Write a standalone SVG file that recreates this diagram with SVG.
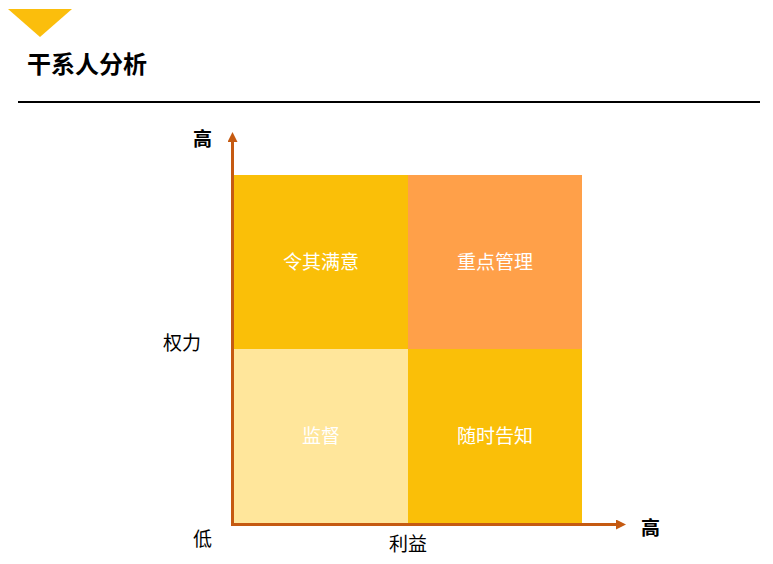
<svg xmlns="http://www.w3.org/2000/svg" width="773" height="564" viewBox="0 0 773 564">
<style>
.t{font-family:"Noto Sans CJK SC","Liberation Sans",sans-serif;}
.lbl{font-size:19px;fill:#000;}
.hi{font-weight:bold;}
.q{font-size:19px;fill:#fff;text-anchor:middle;}
.ax{stroke:#C55A11;stroke-width:3;fill:none;}
</style>
<defs>
<marker id="ah" markerWidth="10" markerHeight="10" refX="2" refY="5" orient="auto" markerUnits="userSpaceOnUse">
<path d="M0,0 L10,5 L0,10 Z" fill="#C55A11"/>
</marker>
</defs>
<rect width="773" height="564" fill="#fff"/>
<polygon points="8,9 72,9 40,37" fill="#FBBE0C"/>
<text class="t" x="27" y="73" font-size="24" font-weight="bold" fill="#000">干系人分析</text>
<rect x="18" y="101" width="742" height="2" fill="#000"/>
<g id="q1"><rect x="234" y="175" width="174" height="174" fill="#FABF08"/><text class="t q" x="321" y="269">令其满意</text></g>
<g id="q2"><rect x="408" y="175" width="174" height="174" fill="#FFA049"/><text class="t q" x="495" y="269">重点管理</text></g>
<g id="q3"><rect x="234" y="349" width="174" height="174" fill="#FFE69B"/><text class="t q" x="321" y="443">监督</text></g>
<g id="q4"><rect x="408" y="349" width="174" height="174" fill="#FABF08"/><text class="t q" x="495" y="443">随时告知</text></g>
<g id="connectors">
<path class="ax" d="M232.5,526 L232.5,140" marker-end="url(#ah)"/>
<path class="ax" d="M231,524.5 L618,524.5" marker-end="url(#ah)"/>
</g>
<text class="t lbl hi" x="193" y="146">高</text>
<text class="t lbl" x="163" y="350">权力</text>
<text class="t lbl" x="193" y="546">低</text>
<text class="t lbl" x="389" y="551">利益</text>
<text class="t lbl hi" x="641" y="535">高</text>
</svg>
